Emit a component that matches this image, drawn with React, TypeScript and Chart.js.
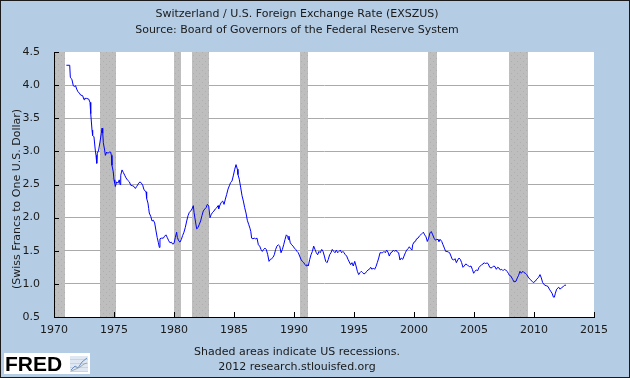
import React, { useEffect, useRef } from "react";
import { Chart, registerables } from "chart.js";

Chart.register(...registerables);

const chartTitle = "Switzerland / U.S. Foreign Exchange Rate (EXSZUS)";
const chartSource = "Source: Board of Governors of the Federal Reserve System";
const yAxisTitle = "(Swiss Francs to One U.S. Dollar)";
const footnotes = ["Shaded areas indicate US recessions.", "2012 research.stlouisfed.org"];

const years = [
  1971.03, 1971.31, 1971.36, 1971.44, 1971.5, 1971.61, 1971.72, 1971.8, 1971.89, 1972.0,
  1972.11, 1972.22, 1972.39, 1972.5, 1972.56, 1972.7, 1972.89, 1973.0, 1973.06, 1973.17,
  1973.22, 1973.33, 1973.44, 1973.5, 1973.56, 1973.61, 1973.72, 1973.83, 1973.94, 1974.0,
  1974.06, 1974.11, 1974.22, 1974.28, 1974.39, 1974.5, 1974.61, 1974.72, 1974.78, 1974.83,
  1974.94, 1975.0, 1975.06, 1975.11, 1975.22, 1975.33, 1975.44, 1975.5, 1975.56, 1975.67,
  1975.78, 1975.89, 1976.0, 1976.11, 1976.28, 1976.39, 1976.56, 1976.67, 1976.78, 1976.89,
  1977.06, 1977.17, 1977.28, 1977.39, 1977.5, 1977.67, 1977.72, 1977.83, 1977.89, 1977.94,
  1978.06, 1978.17, 1978.28, 1978.39, 1978.5, 1978.6, 1978.7, 1978.78, 1978.83, 1978.95,
  1979.11, 1979.22, 1979.33, 1979.44, 1979.56, 1979.67, 1979.78, 1979.89, 1980.0, 1980.11,
  1980.22, 1980.28, 1980.39, 1980.5, 1980.61, 1980.72, 1980.83, 1980.94, 1981.06, 1981.17,
  1981.28, 1981.39, 1981.5, 1981.61, 1981.67, 1981.78, 1981.89, 1982.0, 1982.11, 1982.22,
  1982.33, 1982.44, 1982.56, 1982.67, 1982.78, 1982.89, 1983.0, 1983.11, 1983.22, 1983.33,
  1983.44, 1983.56, 1983.67, 1983.72, 1983.83, 1983.94, 1984.06, 1984.17, 1984.28, 1984.39,
  1984.5, 1984.61, 1984.72, 1984.83, 1984.94, 1985.06, 1985.17, 1985.22, 1985.28, 1985.33,
  1985.44, 1985.56, 1985.67, 1985.78, 1985.89, 1986.0, 1986.11, 1986.22, 1986.33, 1986.4,
  1986.47, 1986.58, 1986.69, 1986.8, 1986.92, 1987.03, 1987.14, 1987.25, 1987.36, 1987.47,
  1987.58, 1987.69, 1987.81, 1987.92, 1988.03, 1988.14, 1988.25, 1988.36, 1988.47, 1988.58,
  1988.69, 1988.81, 1988.92, 1989.03, 1989.14, 1989.25, 1989.36, 1989.47, 1989.53, 1989.58,
  1989.69, 1989.81, 1989.92, 1990.03, 1990.14, 1990.25, 1990.36, 1990.47, 1990.58, 1990.69,
  1990.81, 1990.92, 1991.03, 1991.08, 1991.19, 1991.31, 1991.42, 1991.53, 1991.64, 1991.75,
  1991.86, 1991.97, 1992.08, 1992.19, 1992.31, 1992.42, 1992.53, 1992.64, 1992.75, 1992.86,
  1992.97, 1993.08, 1993.19, 1993.31, 1993.42, 1993.53, 1993.64, 1993.75, 1993.86, 1993.97,
  1994.08, 1994.17, 1994.28, 1994.39, 1994.5, 1994.61, 1994.72, 1994.83, 1994.94, 1995.06,
  1995.17, 1995.28, 1995.39, 1995.5, 1995.61, 1995.72, 1995.83, 1995.94, 1996.06, 1996.17,
  1996.28, 1996.39, 1996.5, 1996.61, 1996.72, 1996.83, 1996.94, 1997.06, 1997.17, 1997.28,
  1997.39, 1997.5, 1997.61, 1997.72, 1997.83, 1997.94, 1998.06, 1998.17, 1998.28, 1998.39,
  1998.5, 1998.61, 1998.72, 1998.83, 1998.94, 1999.06, 1999.17, 1999.28, 1999.39, 1999.5,
  1999.61, 1999.72, 1999.83, 1999.89, 2000.0, 2000.11, 2000.22, 2000.33, 2000.44, 2000.56,
  2000.67, 2000.78, 2000.89, 2001.0, 2001.11, 2001.22, 2001.33, 2001.44, 2001.56, 2001.67,
  2001.78, 2001.89, 2002.0, 2002.08, 2002.19, 2002.31, 2002.42, 2002.53, 2002.64, 2002.75,
  2002.86, 2002.97, 2003.08, 2003.19, 2003.31, 2003.42, 2003.53, 2003.64, 2003.75, 2003.86,
  2003.97, 2004.08, 2004.19, 2004.31, 2004.42, 2004.53, 2004.64, 2004.75, 2004.86, 2004.97,
  2005.08, 2005.19, 2005.31, 2005.42, 2005.53, 2005.64, 2005.75, 2005.86, 2005.97, 2006.08,
  2006.19, 2006.31, 2006.42, 2006.53, 2006.64, 2006.75, 2006.86, 2006.97, 2007.08, 2007.19,
  2007.31, 2007.42, 2007.53, 2007.64, 2007.75, 2007.86, 2007.94, 2008.06, 2008.22, 2008.33,
  2008.5, 2008.61, 2008.72, 2008.83, 2008.94, 2009.06, 2009.17, 2009.28, 2009.39, 2009.56,
  2009.67, 2009.83, 2009.94, 2010.11, 2010.22, 2010.39, 2010.5, 2010.61, 2010.72, 2010.89,
  2011.06, 2011.17, 2011.28, 2011.39, 2011.5, 2011.62, 2011.7, 2011.78, 2011.89, 2012.06,
  2012.17, 2012.28, 2012.44, 2012.56, 2012.67,
];

const rates = [
  4.3, 4.3, 4.12, 4.1, 4.08, 3.99, 3.98, 3.99, 3.94, 3.9,
  3.88, 3.85, 3.84, 3.78, 3.8, 3.8, 3.79, 3.74, 3.57, 3.32,
  3.24, 3.22, 3.02, 2.94, 2.82, 2.97, 3.02, 3.14, 3.27, 3.35,
  3.28, 3.13, 3.02, 2.94, 2.99, 2.97, 2.99, 2.99, 2.94, 2.79,
  2.69, 2.57, 2.52, 2.47, 2.54, 2.52, 2.57, 2.5, 2.64, 2.72,
  2.68, 2.64, 2.6, 2.57, 2.54, 2.49, 2.48, 2.47, 2.44, 2.47,
  2.52, 2.54, 2.52, 2.49, 2.42, 2.39, 2.29, 2.22, 2.14, 2.07,
  2.02, 1.95, 1.96, 1.92, 1.8, 1.7, 1.62, 1.55, 1.68, 1.69,
  1.69, 1.72, 1.74, 1.7, 1.65, 1.62, 1.63, 1.6, 1.61, 1.7,
  1.78, 1.7, 1.65, 1.63, 1.67, 1.73, 1.78, 1.85, 1.95, 2.03,
  2.08, 2.1, 2.13, 2.18, 2.08, 1.95, 1.83, 1.85, 1.9, 1.95,
  2.03, 2.1, 2.13, 2.15, 2.2, 2.18, 2.0, 2.05, 2.08, 2.1,
  2.13, 2.15, 2.18, 2.13, 2.19, 2.23, 2.25, 2.2, 2.28, 2.35,
  2.43, 2.48, 2.53, 2.55, 2.63, 2.73, 2.8, 2.8, 2.73, 2.65,
  2.58, 2.45, 2.33, 2.25, 2.15, 2.07, 1.96, 1.9, 1.84, 1.79,
  1.69, 1.68, 1.69, 1.68, 1.69, 1.59, 1.57, 1.52, 1.49, 1.52,
  1.54, 1.52, 1.44, 1.34, 1.37, 1.38, 1.4, 1.44, 1.52, 1.57,
  1.59, 1.57, 1.47, 1.52, 1.59, 1.67, 1.74, 1.72, 1.67, 1.72,
  1.62, 1.59, 1.57, 1.54, 1.52, 1.49, 1.47, 1.42, 1.37, 1.34,
  1.32, 1.29, 1.27, 1.29, 1.27, 1.37, 1.44, 1.49, 1.57, 1.52,
  1.47, 1.44, 1.49, 1.47, 1.52, 1.49, 1.42, 1.34, 1.32, 1.37,
  1.44, 1.47, 1.52, 1.49, 1.47, 1.51, 1.47, 1.49, 1.51, 1.47,
  1.49, 1.47, 1.44, 1.42, 1.37, 1.33, 1.29, 1.32, 1.27, 1.34,
  1.27, 1.19, 1.14, 1.17, 1.19, 1.17, 1.15, 1.16, 1.19, 1.21,
  1.22, 1.25, 1.22, 1.24, 1.22, 1.26, 1.32, 1.39, 1.47, 1.47,
  1.47, 1.49, 1.47, 1.51, 1.48, 1.42, 1.47, 1.48, 1.51, 1.49,
  1.51, 1.48, 1.47, 1.36, 1.39, 1.37, 1.42, 1.47, 1.51, 1.53,
  1.56, 1.53, 1.51, 1.59, 1.63, 1.64, 1.68, 1.69, 1.72, 1.74,
  1.76, 1.78, 1.74, 1.71, 1.64, 1.69, 1.77, 1.79, 1.74, 1.69,
  1.66, 1.67, 1.67, 1.64, 1.67, 1.64, 1.59, 1.54, 1.49, 1.49,
  1.48, 1.47, 1.42, 1.37, 1.36, 1.38, 1.32, 1.36, 1.39, 1.37,
  1.32, 1.25, 1.27, 1.3, 1.29, 1.27, 1.26, 1.27, 1.22, 1.16,
  1.19, 1.21, 1.2, 1.25, 1.27, 1.29, 1.3, 1.32, 1.3, 1.32,
  1.3, 1.25, 1.24, 1.25, 1.27, 1.26, 1.22, 1.25, 1.24, 1.21,
  1.22, 1.2, 1.22, 1.21, 1.19, 1.16, 1.13, 1.12, 1.07, 1.03,
  1.04, 1.09, 1.13, 1.19, 1.16, 1.19, 1.17, 1.16, 1.14, 1.09,
  1.07, 1.04, 1.02, 1.04, 1.07, 1.1, 1.14, 1.09, 1.02, 0.98,
  0.97, 0.96, 0.92, 0.89, 0.86, 0.8, 0.8, 0.86, 0.92, 0.95,
  0.92, 0.94, 0.96, 0.98, 0.98,
];

const recessionStarts = [1969.9, 1973.83, 1980.0, 1981.5, 1990.5, 2001.2, 2007.95];
const recessionEnds = [1970.9, 1975.2, 1980.55, 1982.9, 1991.2, 2001.9, 2009.5];

const xMin = 1970;
const xMax = 2015;
const xStep = 5;
const yMin = 0.5;
const yMax = 4.5;
const yStep = 0.5;

const BG = "#B4CCE4";
const TEXT = "#1a1a1a";
const FONT = "'DejaVu Sans', Verdana, sans-serif";

export default function App() {
  const ref = useRef<HTMLCanvasElement | null>(null);

  useEffect(() => {
    document.body.style.margin = "0";
    const canvas = ref.current;
    if (!canvas) return;

    const pc = document.createElement("canvas");
    pc.width = 6;
    pc.height = 6;
    const pctx = pc.getContext("2d")!;
    pctx.fillStyle = "#BEBEBE";
    pctx.fillRect(0, 0, 6, 6);
    pctx.fillStyle = "#AEAEAE";
    pctx.fillRect(1, 1, 1, 1);
    pctx.fillRect(4, 4, 1, 1);

    const decor = {
      id: "fredDecor",
      beforeDraw(chart: any) {
        const { ctx, chartArea: a } = chart;
        ctx.save();
        ctx.fillStyle = BG;
        ctx.fillRect(0, 0, chart.width, chart.height);
        ctx.fillStyle = "#ffffff";
        ctx.fillRect(a.left, a.top, a.right - a.left, a.bottom - a.top);
        ctx.restore();
      },
      beforeDatasetsDraw(chart: any) {
        const { ctx, chartArea: a, scales } = chart;
        const pat = ctx.createPattern(pc, "repeat");
        ctx.save();
        ctx.fillStyle = pat || "#BEBEBE";
        for (let i = 0; i < recessionStarts.length; i++) {
          const x0 = Math.max(a.left, Math.round(scales.x.getPixelForValue(recessionStarts[i])));
          const x1 = Math.min(a.right, Math.round(scales.x.getPixelForValue(recessionEnds[i])));
          ctx.fillRect(x0, a.top, x1 - x0, a.bottom - a.top);
        }
        ctx.restore();
      },
      afterDraw(chart: any) {
        const { ctx, chartArea: a, scales } = chart;
        ctx.save();
        ctx.strokeStyle = "#000";
        ctx.lineWidth = 1;
        ctx.beginPath();
        ctx.moveTo(a.left + 0.5, a.top);
        ctx.lineTo(a.left + 0.5, a.bottom + 0.5);
        ctx.lineTo(a.right, a.bottom + 0.5);
        for (let v = xMin; v <= xMax + 1e-6; v += xStep) {
          const x = Math.round(scales.x.getPixelForValue(v)) + 0.5;
          ctx.moveTo(x, a.bottom);
          ctx.lineTo(x, a.bottom - 5);
        }
        for (let v = yMin; v <= yMax + 1e-6; v += yStep) {
          const y = Math.round(scales.y.getPixelForValue(v)) + 0.5;
          ctx.moveTo(a.left, y);
          ctx.lineTo(a.left + 5, y);
        }
        ctx.stroke();

        ctx.fillStyle = TEXT;
        ctx.font = `11px ${FONT}`;
        ctx.textAlign = "center";
        ctx.textBaseline = "middle";
        ctx.translate(17, 199);
        ctx.rotate(-Math.PI / 2);
        ctx.fillText(yAxisTitle, 0, 0);
        ctx.setTransform(1, 0, 0, 1, 0, 0);

        ctx.fillStyle = "#ffffff";
        ctx.fillRect(4, 353, 86, 21);
        ctx.fillStyle = "#000";
        ctx.font = "bold 21px 'Liberation Sans', Arial, sans-serif";
        ctx.textAlign = "left";
        ctx.textBaseline = "alphabetic";
        ctx.fillText("FRED", 5, 371);
        ctx.fillStyle = "#dfe8f2";
        ctx.fillRect(70, 356, 18, 16);
        ctx.strokeStyle = "#c8d4e0";
        ctx.beginPath();
        for (let i = 0; i < 4; i++) {
          ctx.moveTo(70, 359.5 + i * 4);
          ctx.lineTo(88, 359.5 + i * 4);
        }
        ctx.stroke();
        ctx.strokeStyle = "#6f8fbf";
        ctx.beginPath();
        ctx.moveTo(71, 370);
        ctx.lineTo(75, 366);
        ctx.lineTo(78, 368);
        ctx.lineTo(82, 362);
        ctx.lineTo(87, 358);
        ctx.stroke();
        ctx.strokeStyle = "#9aa6b4";
        ctx.beginPath();
        ctx.moveTo(71, 371);
        ctx.lineTo(76, 369);
        ctx.lineTo(80, 367);
        ctx.lineTo(84, 364);
        ctx.lineTo(87, 363);
        ctx.stroke();

        ctx.strokeStyle = "#1a1a1a";
        ctx.strokeRect(0.5, 0.5, chart.width - 1, chart.height - 1);
        ctx.restore();
      },
    };

    const chart = new Chart(canvas, {
      type: "line",
      data: {
        datasets: [
          {
            label: "EXSZUS",
            data: years.map((x, i) => ({ x, y: rates[i] })),
            borderColor: "#0000FF",
            borderWidth: 1,
            pointRadius: 0,
            tension: 0,
            fill: false,
          },
        ],
      },
      options: {
        animation: false,
        responsive: false,
        devicePixelRatio: 1,
        layout: { padding: { left: 0, right: 36, top: 0, bottom: 0 } },
        plugins: {
          legend: { display: false },
          tooltip: { enabled: false },
          title: {
            display: true,
            text: [chartTitle, chartSource],
            color: TEXT,
            font: { family: FONT, size: 11, weight: "normal", lineHeight: "16px" },
            padding: { top: 6, bottom: 14 },
          },
          subtitle: {
            display: true,
            position: "bottom",
            text: footnotes,
            color: TEXT,
            font: { family: FONT, size: 11, weight: "normal", lineHeight: "15px" },
            padding: { top: 8, bottom: 3 },
          },
        },
        scales: {
          x: {
            type: "linear",
            min: xMin,
            max: xMax,
            afterFit: (s: any) => {
              s.height = 20;
            },
            ticks: {
              stepSize: xStep,
              color: TEXT,
              font: { family: FONT, size: 11 },
              padding: 7,
              maxRotation: 0,
              callback: (v: any) => String(v),
            },
            grid: { display: false, drawTicks: false },
            border: { display: true, color: "#000" },
          },
          y: {
            min: yMin,
            max: yMax,
            afterFit: (s: any) => {
              s.width = 54;
            },
            ticks: {
              stepSize: yStep,
              color: TEXT,
              font: { family: FONT, size: 11 },
              padding: 14,
              callback: (v: any) => Number(v).toFixed(1),
            },
            grid: {
              drawTicks: false,
              color: (c: any) => (c.tick && c.tick.value === yMax ? "rgba(0,0,0,0)" : "#AAAAAA"),
              lineWidth: 1,
            },
            border: { display: true, color: "#000" },
          },
        },
      },
      plugins: [decor],
    } as any);

    return () => chart.destroy();
  }, []);

  return (
    <div style={{ width: 630, height: 378 }}>
      <canvas ref={ref} width={630} height={378} style={{ display: "block" }} />
    </div>
  );
}
